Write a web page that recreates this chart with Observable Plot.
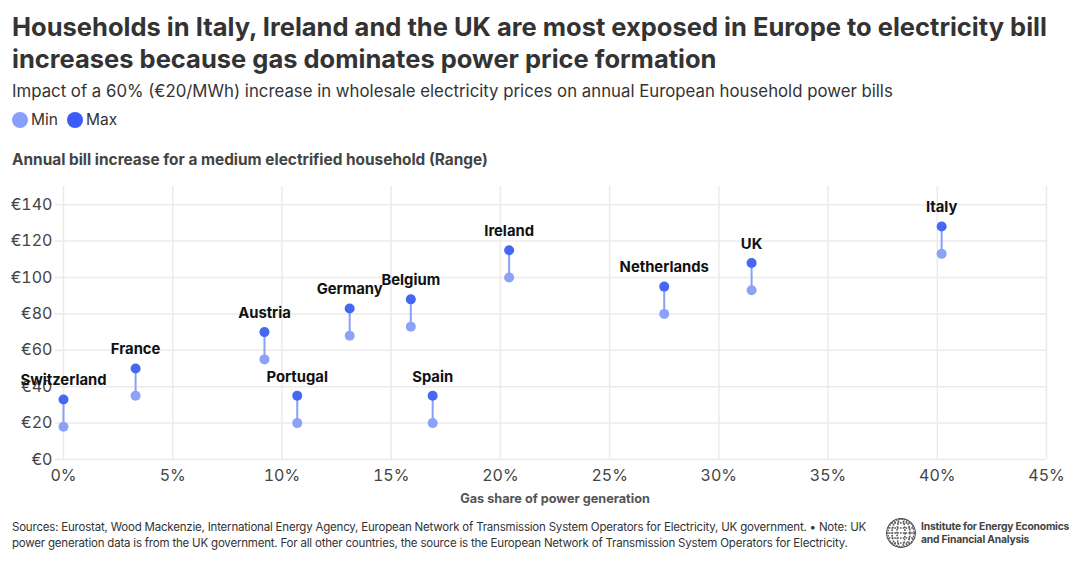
<!DOCTYPE html>
<html>
<head>
<meta charset="utf-8">
<script src="https://cdn.jsdelivr.net/npm/d3@7"></script>
<script src="https://cdn.jsdelivr.net/npm/@observablehq/plot@0.6"></script>
<style>
  html, body { margin: 0; padding: 0; background: #fff; }
  body { width: 1080px; height: 565px; font-family: Inter, "Noto Sans", sans-serif; position: relative; overflow: hidden; }
  .title { position: absolute; left: 12px; top: 11px; width: 1066px; font-size: 25.5px; line-height: 32px; font-weight: 700; color: #333; }
  .subtitle { position: absolute; left: 12px; top: 80px; font-size: 16.8px; line-height: 22px; color: #333; }
  .legend { position: absolute; left: 12px; top: 110px; font-size: 15.5px; line-height: 20px; color: #333; display: flex; align-items: center; }
  .legend .sw { display: inline-block; width: 16px; height: 16px; border-radius: 50%; margin-right: 3px; }
  .legend .item { display: flex; align-items: center; margin-right: 9px; }
  .ytitle { position: absolute; left: 12px; top: 150px; font-size: 15.4px; line-height: 20px; font-weight: 700; color: #444; }
  #chart { position: absolute; left: 0; top: 170px; }
  #chart [aria-label="x-axis label"] text { font-weight: 700; font-size: 12.7px; fill: #555; }
  .footer { position: absolute; left: 12px; top: 519px; width: 866px; font-size: 11.5px; line-height: 16px; color: #333; letter-spacing: -0.2px; }
  .logo { position: absolute; left: 885px; top: 517px; display: flex; align-items: center; }
  .logo .name { font-size: 10.3px; line-height: 13px; font-weight: 700; color: #444; margin-left: 4px; letter-spacing: -0.2px; }
</style>
</head>
<body>
<div class="title">Households in Italy, Ireland and the UK are most exposed in Europe to electricity bill increases because gas dominates power price formation</div>
<div class="subtitle">Impact of a 60% (€20/MWh) increase in wholesale electricity prices on annual European household power bills</div>
<div class="legend">
  <span class="item"><span class="sw" style="background:#869ffb"></span>Min</span>
  <span class="item"><span class="sw" style="background:#3a5cf9"></span>Max</span>
</div>
<div class="ytitle">Annual bill increase for a medium electrified household (Range)</div>
<div id="chart"></div>
<div class="footer">Sources: Eurostat, Wood Mackenzie, International Energy Agency, European Network of Transmission System Operators for Electricity, UK government. • Note: UK power generation data is from the UK government. For all other countries, the source is the European Network of Transmission System Operators for Electricity.</div>
<div class="logo">
  <svg width="32" height="32" viewBox="-16 -16 32 32">
    <defs>
      <clipPath id="globe"><circle r="15"/></clipPath>
    </defs>
    <g clip-path="url(#globe)" stroke="#555" fill="none">
      <circle r="14.5" stroke-width="1.2"/>
      <ellipse rx="4" ry="14.5" stroke-width="1.6" stroke-dasharray="1.6 1.2"/>
      <ellipse rx="9" ry="14.5" stroke-width="1.6" stroke-dasharray="1.6 1.2"/>
      <ellipse rx="13" ry="14.5" stroke-width="1.4" stroke-dasharray="1.6 1.2"/>
      <line x1="-15" x2="15" y1="0" y2="0" stroke-width="1.6" stroke-dasharray="1.6 1.2"/>
      <line x1="-15" x2="15" y1="-5" y2="-5" stroke-width="1.6" stroke-dasharray="1.6 1.2"/>
      <line x1="-15" x2="15" y1="5" y2="5" stroke-width="1.6" stroke-dasharray="1.6 1.2"/>
      <line x1="-15" x2="15" y1="-10" y2="-10" stroke-width="1.4" stroke-dasharray="1.6 1.2"/>
      <line x1="-15" x2="15" y1="10" y2="10" stroke-width="1.4" stroke-dasharray="1.6 1.2"/>
    </g>
  </svg>
  <div class="name">Institute for Energy Economics<br>and Financial Analysis</div>
</div>
<script>
// Countries, gas share of power generation (%) and annual bill increase range (€)
const countries = ["Switzerland", "France", "Austria", "Portugal", "Germany", "Belgium", "Spain", "Ireland", "Netherlands", "UK", "Italy"];
const gasShare  = [0, 3.3, 9.2, 10.7, 13.1, 15.9, 16.9, 20.4, 27.5, 31.5, 40.2];
const billMin   = [18, 35, 55, 20, 68, 73, 20, 100, 80, 93, 113];
const billMax   = [33, 50, 70, 35, 83, 88, 35, 115, 95, 108, 128];

const xTicks = [0, 5, 10, 15, 20, 25, 30, 35, 40, 45];
const yTicks = [0, 20, 40, 60, 80, 100, 120, 140];

const rows = countries.map((country, i) => ({
  country, share: gasShare[i], min: billMin[i], max: billMax[i]
}));

const gridColor = "#ebebeb";
const minColor = "#8ca2f8";
const maxColor = "#4568f4";

const chart = Plot.plot({
  width: 1080,
  height: 340,
  marginLeft: 63,
  marginRight: 34,
  marginTop: 16,
  marginBottom: 51,
  style: { fontFamily: "Inter, 'Noto Sans', sans-serif", background: "transparent", overflow: "visible" },
  x: { domain: [0, 45] },
  y: { domain: [0, 150] },
  marks: [
    Plot.gridX(xTicks, { stroke: gridColor, strokeOpacity: 1, strokeWidth: 1.5 }),
    Plot.gridY(yTicks, { stroke: gridColor, strokeOpacity: 1, strokeWidth: 1.5 }),
    Plot.axisY(yTicks, {
      tickSize: 8, tickPadding: 3, stroke: gridColor, strokeWidth: 1.5,
      fill: "#444", fontSize: 16, tickFormat: d => "€" + d, label: null
    }),
    Plot.axisX(xTicks, {
      tickSize: 0, tickPadding: 10, fill: "#444", fontSize: 16,
      tickFormat: d => d + "%",
      label: "Gas share of power generation", labelAnchor: "center", labelArrow: "none", labelOffset: 43
    }),
    Plot.ruleX(rows, { x: "share", y1: "min", y2: "max", stroke: "#89a0f7", strokeWidth: 2 }),
    Plot.dot(rows, { x: "share", y: "min", r: 5, fill: minColor, stroke: "none" }),
    Plot.dot(rows, { x: "share", y: "max", r: 5, fill: maxColor, stroke: "none" }),
    Plot.text(rows, {
      x: "share", y: "max", text: "country", dy: -19,
      fontSize: 14.8, fontWeight: 700, fill: "#111"
    })
  ]
});

document.getElementById("chart").appendChild(chart);
</script>
</body>
</html>
